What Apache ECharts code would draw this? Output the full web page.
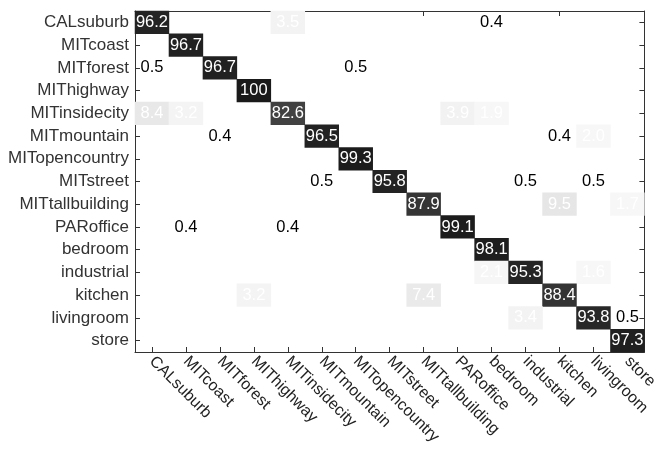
<!DOCTYPE html>
<html><head><meta charset="utf-8">
<script src="https://cdn.jsdelivr.net/npm/echarts@6/dist/echarts.min.js"></script>
<style>html,body{margin:0;padding:0;background:#fff}#c{width:660px;height:453px}</style>
</head><body><div id="c"></div>
<script>
const categories = ["CALsuburb","MITcoast","MITforest","MIThighway","MITinsidecity","MITmountain","MITopencountry","MITstreet","MITtallbuilding","PARoffice","bedroom","industrial","kitchen","livingroom","store"];
// [row (true class), column (predicted), percent]
const cells = [
  [0,0,96.2],[0,4,3.5],[0,10,0.4],
  [1,1,96.7],
  [2,0,0.5],[2,2,96.7],[2,6,0.5],
  [3,3,100],
  [4,0,8.4],[4,1,3.2],[4,4,82.6],[4,9,3.9],[4,10,1.9],
  [5,2,0.4],[5,5,96.5],[5,12,0.4],[5,13,2.0],
  [6,6,99.3],
  [7,5,0.5],[7,7,95.8],[7,11,0.5],[7,13,0.5],
  [8,8,87.9],[8,12,9.5],[8,14,1.7],
  [9,1,0.4],[9,4,0.4],[9,9,99.1],
  [10,10,98.1],
  [11,10,2.1],[11,11,95.3],[11,13,1.6],
  [12,3,3.2],[12,8,7.4],[12,12,88.4],
  [13,11,3.4],[13,13,93.8],[13,14,0.5],
  [14,14,97.3]
];
const FONT = '"Liberation Sans", Arial, sans-serif';
const data = cells.map(c => {
  const d = { value: [c[1], c[0], c[2]], label: { color: c[2] >= 1 ? '#ffffff' : '#000000' } };
  if (c[2] < 1) d.itemStyle = { color: 'rgba(255,255,255,0)' };
  return d;
});
const axisLine = { show: true, lineStyle: { color: '#333', width: 1 } };
const axisTick = { show: true, inside: true, length: 5, alignWithLabel: true, lineStyle: { color: '#333' } };
const chart = echarts.init(document.getElementById('c'), null, { renderer: 'canvas' });
chart.setOption({
  animation: false,
  backgroundColor: '#fff',
  grid: { left: 135, right: 5, top: 11, bottom: 101 },
  xAxis: [
    { type: 'category', data: categories, position: 'bottom', axisLine, axisTick,
      splitLine: { show: false },
      axisLabel: { rotate: -45, margin: 7, fontSize: 16, color: '#222', fontFamily: FONT, interval: 0 } },
    { type: 'category', data: categories, position: 'top', axisLine, axisTick,
      axisLabel: { show: false } }
  ],
  yAxis: [
    { type: 'category', data: categories, inverse: true, position: 'left', axisLine, axisTick,
      axisLabel: { margin: 6, fontSize: 17, color: '#333', fontFamily: FONT, interval: 0 } },
    { type: 'category', data: categories, inverse: true, position: 'right', axisLine, axisTick,
      axisLabel: { show: false } }
  ],
  visualMap: { show: false, type: 'continuous', min: 0, max: 100, dimension: 2,
    inRange: { color: ['#fbfbfb', '#1a1a1a'] } },
  series: [{
    type: 'heatmap', xAxisIndex: 0, yAxisIndex: 0, data, z: 1,
    label: { show: true, fontSize: 16.5, fontFamily: FONT,
      formatter: p => { const v = p.value[2]; return v === 100 ? '100' : v.toFixed(1); } },
    itemStyle: { borderWidth: 0 }
  }]
});
</script></body></html>
